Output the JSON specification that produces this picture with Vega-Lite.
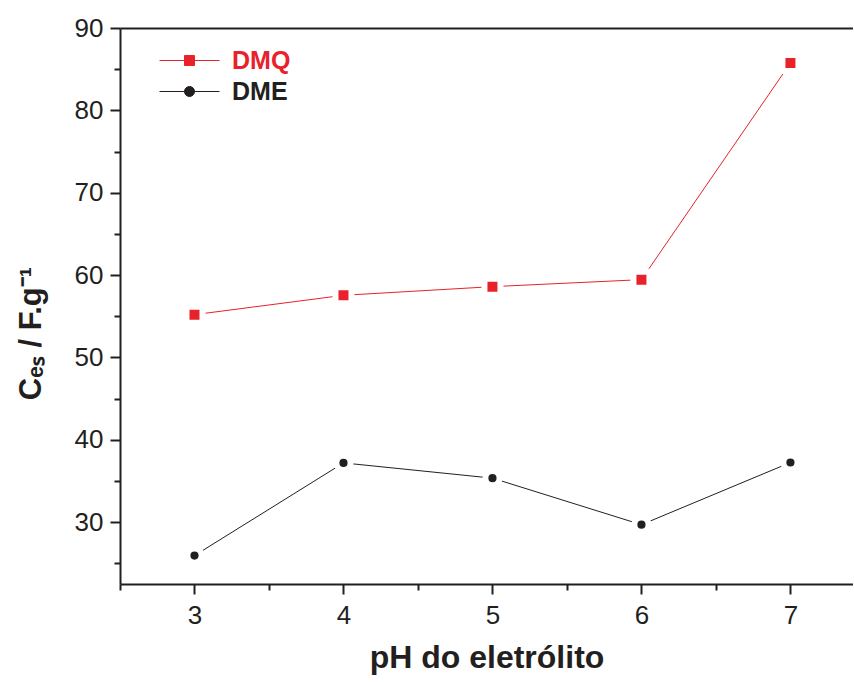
{
  "$schema": "https://vega.github.io/schema/vega-lite/v6.json",
  "autosize": {"type": "none"},
  "padding": {"left": 120, "top": 28, "right": 0, "bottom": 98},
  "width": 733,
  "height": 556,
  "background": "white",
  "config": {
    "view": {"stroke": null},
    "font": "Liberation Sans",
    "axis": {"domainColor": "#231f20", "domainWidth": 2, "tickColor": "#231f20", "tickWidth": 2, "labelColor": "#231f20", "titleColor": "#231f20", "grid": false, "labelFont": "Liberation Sans", "titleFont": "Liberation Sans"}
  },
  "data": {"values": [
    {"ph": 3, "series": "DMQ", "marker": "square", "value": 55.2},
    {"ph": 4, "series": "DMQ", "marker": "square", "value": 57.55},
    {"ph": 5, "series": "DMQ", "marker": "square", "value": 58.6},
    {"ph": 6, "series": "DMQ", "marker": "square", "value": 59.45},
    {"ph": 7, "series": "DMQ", "marker": "square", "value": 85.75},
    {"ph": 3, "series": "DME", "marker": "circle", "value": 25.95},
    {"ph": 4, "series": "DME", "marker": "circle", "value": 37.2},
    {"ph": 5, "series": "DME", "marker": "circle", "value": 35.35},
    {"ph": 6, "series": "DME", "marker": "circle", "value": 29.7},
    {"ph": 7, "series": "DME", "marker": "circle", "value": 37.25}
  ]},
  "layer": [
    {
      "mark": {"type": "line", "strokeWidth": 1},
      "encoding": {
        "x": {"field": "ph", "type": "quantitative", "scale": {"domain": [2.5, 7.42], "nice": false, "zero": false},
          "axis": {"orient": "bottom", "values": [2.5, 3, 3.5, 4, 4.5, 5, 5.5, 6, 6.5, 7], "labelExpr": "datum.value % 1 === 0 ? format(datum.value, 'd') : ''",
            "tickSize": {"condition": {"test": "datum.value % 1 === 0", "value": 10}, "value": 6},
            "labelFontSize": 26, "labelPadding": 8, "title": "pH do eletrólito", "titleFontSize": 32, "titleFontWeight": "bold", "titlePadding": 14}},
        "y": {"field": "value", "type": "quantitative", "scale": {"domain": [22.5, 90], "nice": false, "zero": false},
          "axis": {"values": [25, 30, 35, 40, 45, 50, 55, 60, 65, 70, 75, 80, 85, 90], "labelExpr": "datum.value % 10 === 0 ? datum.label : ''",
            "tickSize": {"condition": {"test": "datum.value % 10 === 0", "value": 10}, "value": 6},
            "labelFontSize": 26, "labelPadding": 7, "title": "Cₑₛ / F.g⁻¹", "titleFontSize": 31, "titleFontWeight": "bold", "titlePadding": 27, "titleY": 305}},
        "color": {"field": "series", "type": "nominal", "scale": {"domain": ["DMQ", "DME"], "range": ["#e8212a", "#231f20"]},
          "legend": {"orient": "none", "legendX": 57, "legendY": 20, "title": null, "padding": 0,
            "labelFont": "Liberation Sans", "labelFontSize": 25, "labelFontWeight": "bold", "labelOffset": 30,
            "symbolSize": 100, "symbolStrokeWidth": 1, "rowPadding": 5,
            "encode": {
              "symbols": {"update": {
                "shape": {"signal": "datum.value === 'DMQ' ? 'M-6,0H6M-1,-1H1V1H-1Z' : 'M-6,0H6M1,0A1,1,0,1,1,-1,0A1,1,0,1,1,1,0Z'"},
                "fill": {"signal": "datum.value === 'DMQ' ? '#e8212a' : '#231f20'"},
                "stroke": {"signal": "datum.value === 'DMQ' ? '#e8212a' : '#231f20'"},
                "strokeWidth": {"value": 1},
                "fillOpacity": {"value": 1}, "strokeOpacity": {"value": 1}}},
              "labels": {"update": {"fill": {"signal": "datum.value === 'DMQ' ? '#e8212a' : '#231f20'"}}}
            }}}
      }
    },
    {
      "mark": {"type": "point", "filled": true, "opacity": 1, "stroke": "white", "strokeWidth": 6, "strokeOpacity": 1},
      "encoding": {
        "x": {"field": "ph", "type": "quantitative", "axis": {"orient": "top", "labels": false, "ticks": false, "title": null, "domain": true}},
        "y": {"field": "value", "type": "quantitative"},
        "fill": {"field": "marker", "type": "nominal", "scale": {"domain": ["square", "circle"], "range": ["#e8212a", "#231f20"]}, "legend": null},
        "shape": {"field": "marker", "type": "nominal", "scale": {"domain": ["square", "circle"], "range": ["square", "circle"]}, "legend": null},
        "size": {"field": "marker", "type": "nominal", "scale": {"domain": ["square", "circle"], "range": [256, 201]}, "legend": null}
      }
    }
  ],
  "resolve": {"axis": {"x": "independent"}}
}
